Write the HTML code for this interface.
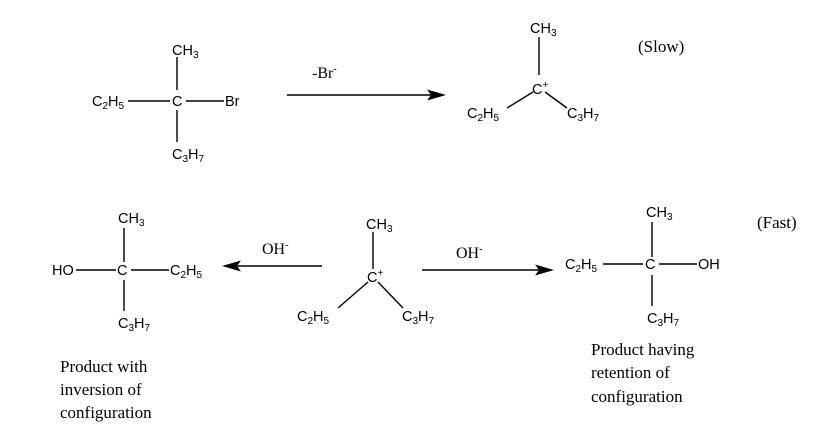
<!DOCTYPE html>
<html><head><meta charset="utf-8"><style>
html,body{margin:0;padding:0;background:#fff;}
svg{display:block}
.s{font-family:"Liberation Sans",sans-serif;font-size:14.5px;fill:#000}
.r{font-family:"Liberation Serif",serif;font-size:17px;fill:#000}
.sub{font-size:10px}
</style></head><body>
<svg width="838" height="435" viewBox="0 0 838 435" xmlns="http://www.w3.org/2000/svg" stroke="#000" stroke-width="1.4">
<g stroke="none">
<text class="s" x="172" y="55">CH<tspan class="sub" dy="3">3</tspan></text>
<text class="s" x="92" y="106">C<tspan class="sub" dy="3">2</tspan><tspan dy="-3">H</tspan><tspan class="sub" dy="3">5</tspan></text>
<text class="s" x="172" y="106">C</text>
<text class="s" x="225" y="106">Br</text>
<text class="s" x="172" y="159">C<tspan class="sub" dy="3">3</tspan><tspan dy="-3">H</tspan><tspan class="sub" dy="3">7</tspan></text>
<text class="r" x="312" y="78" style="font-size:16px">-Br<tspan style="font-size:10px" dy="-6">-</tspan></text>
<text class="s" x="530" y="33">CH<tspan class="sub" dy="3">3</tspan></text>
<text class="s" x="532" y="94">C<tspan class="sub" dy="-6">+</tspan></text>
<text class="s" x="467" y="118">C<tspan class="sub" dy="3">2</tspan><tspan dy="-3">H</tspan><tspan class="sub" dy="3">5</tspan></text>
<text class="s" x="567" y="118">C<tspan class="sub" dy="3">3</tspan><tspan dy="-3">H</tspan><tspan class="sub" dy="3">7</tspan></text>
<text class="r" x="638" y="52">(Slow)</text>
<text class="s" x="118" y="223">CH<tspan class="sub" dy="3">3</tspan></text>
<text class="s" x="52" y="275">HO</text>
<text class="s" x="117" y="275">C</text>
<text class="s" x="170" y="275">C<tspan class="sub" dy="3">2</tspan><tspan dy="-3">H</tspan><tspan class="sub" dy="3">5</tspan></text>
<text class="s" x="118" y="328">C<tspan class="sub" dy="3">3</tspan><tspan dy="-3">H</tspan><tspan class="sub" dy="3">7</tspan></text>
<text class="r" x="262" y="254" style="font-size:16px">OH<tspan style="font-size:10px" dy="-6">-</tspan></text>
<text class="s" x="366" y="229">CH<tspan class="sub" dy="3">3</tspan></text>
<text class="s" x="367" y="282">C<tspan class="sub" dy="-6">+</tspan></text>
<text class="s" x="297" y="321">C<tspan class="sub" dy="3">2</tspan><tspan dy="-3">H</tspan><tspan class="sub" dy="3">5</tspan></text>
<text class="s" x="402" y="321">C<tspan class="sub" dy="3">3</tspan><tspan dy="-3">H</tspan><tspan class="sub" dy="3">7</tspan></text>
<text class="r" x="456" y="258" style="font-size:16px">OH<tspan style="font-size:10px" dy="-6">-</tspan></text>
<text class="s" x="646" y="217">CH<tspan class="sub" dy="3">3</tspan></text>
<text class="s" x="565" y="269">C<tspan class="sub" dy="3">2</tspan><tspan dy="-3">H</tspan><tspan class="sub" dy="3">5</tspan></text>
<text class="s" x="645" y="269">C</text>
<text class="s" x="698" y="269">OH</text>
<text class="s" x="647" y="323">C<tspan class="sub" dy="3">3</tspan><tspan dy="-3">H</tspan><tspan class="sub" dy="3">7</tspan></text>
<text class="r" x="757" y="228">(Fast)</text>
<text class="r" x="60" y="372">Product with</text>
<text class="r" x="60" y="395">inversion of</text>
<text class="r" x="60" y="418">configuration</text>
<text class="r" x="591" y="355">Product having</text>
<text class="r" x="591" y="378">retention of</text>
<text class="r" x="591" y="402">configuration</text>
<polygon points="446,95 427,89.5 431,95 427,100.5" fill="#000"/>
<polygon points="222,266 241,260.5 237,266 241,271.5" fill="#000"/>
<polygon points="554,270 535,264.5 539,270 535,275.5" fill="#000"/>
</g>
<line x1="177" y1="57" x2="177" y2="90"/>
<line x1="177" y1="110" x2="177" y2="142"/>
<line x1="128" y1="101" x2="170" y2="101"/>
<line x1="186" y1="101" x2="224" y2="101"/>
<line x1="287" y1="95" x2="432" y2="95"/>
<line x1="539" y1="37" x2="539" y2="75"/>
<line x1="533" y1="92" x2="507" y2="108"/>
<line x1="545" y1="92" x2="567" y2="108"/>
<line x1="124" y1="228" x2="124" y2="262"/>
<line x1="124" y1="280" x2="124" y2="311"/>
<line x1="76" y1="270" x2="116" y2="270"/>
<line x1="131" y1="270" x2="169" y2="270"/>
<line x1="322" y1="266" x2="236" y2="266"/>
<line x1="373" y1="232" x2="373" y2="269"/>
<line x1="368" y1="282" x2="338" y2="308"/>
<line x1="378" y1="282" x2="403" y2="308"/>
<line x1="422" y1="270" x2="540" y2="270"/>
<line x1="652" y1="222" x2="652" y2="257"/>
<line x1="652" y1="275" x2="652" y2="306"/>
<line x1="603" y1="264" x2="643" y2="264"/>
<line x1="659" y1="264" x2="697" y2="264"/>
</svg>
</body></html>
